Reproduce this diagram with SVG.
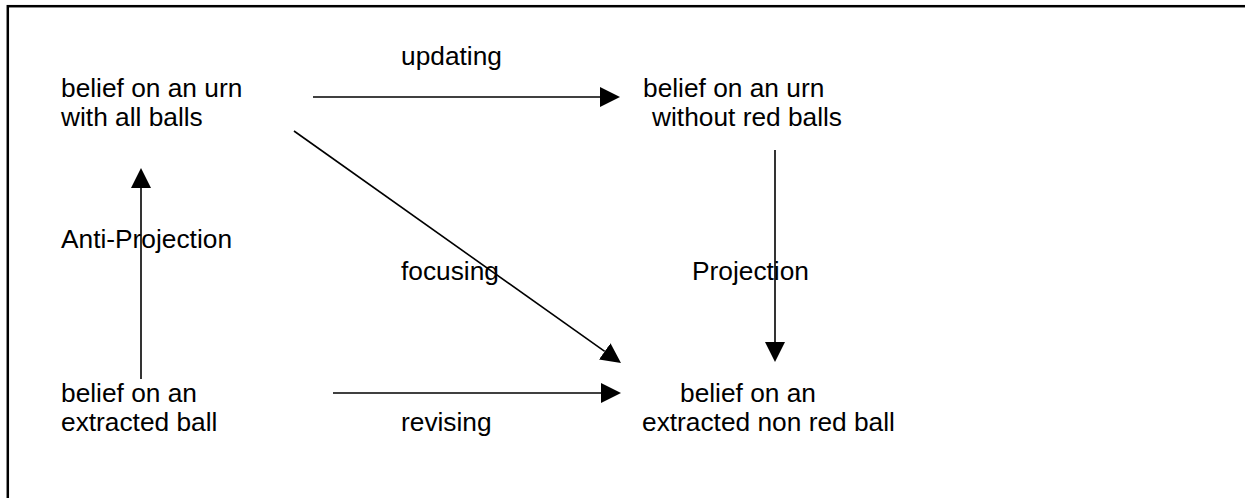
<svg xmlns="http://www.w3.org/2000/svg" width="1245" height="498" viewBox="0 0 1245 498">
  <style>
    text { font-family: "Liberation Sans", Arial, sans-serif; font-size: 26.3px; fill: #000; }
    .conn { stroke: #000; stroke-width: 1.6; fill: none; marker-end: url(#arrow); }
  </style>
  <defs>
    <marker id="arrow" viewBox="0 0 20 20" markerWidth="20" markerHeight="20" refX="0" refY="10" orient="auto" markerUnits="userSpaceOnUse">
      <path d="M0,0 L20,10 L0,20 z" fill="#000"/>
    </marker>
  </defs>
  <rect x="0" y="0" width="1245" height="498" fill="#fff"/>
  <rect id="frame" x="7.8" y="6.2" width="1260" height="520" fill="none" stroke="#000" stroke-width="2.5"/>

  <g id="connectors">
    <line id="updating" class="conn" x1="313" y1="97" x2="600" y2="97"/>
    <line id="projection" class="conn" x1="775" y1="150" x2="775" y2="342"/>
    <line id="focusing" class="conn" x1="294" y1="131" x2="604.7" y2="351.4"/>
    <line id="revising" class="conn" x1="333" y1="393" x2="601" y2="393"/>
    <line id="anti-projection" class="conn" x1="141" y1="379" x2="141" y2="188"/>
  </g>

  <g id="labels">
    <text x="401" y="65">updating</text>
    <text x="61" y="248">Anti-Projection</text>
    <text x="401" y="280">focusing</text>
    <text x="692" y="280">Projection</text>
    <text x="401" y="431">revising</text>
  </g>

  <g id="node-urn-all">
    <text x="61" y="97">belief on an urn</text>
    <text x="61" y="126">with all balls</text>
  </g>
  <g id="node-urn-no-red">
    <text x="643" y="97">belief on an urn</text>
    <text x="652" y="126">without red balls</text>
  </g>
  <g id="node-extracted-ball">
    <text x="61" y="402">belief on an</text>
    <text x="61" y="431">extracted ball</text>
  </g>
  <g id="node-extracted-non-red">
    <text x="680" y="402">belief on an</text>
    <text x="642" y="431">extracted non red ball</text>
  </g>
</svg>
